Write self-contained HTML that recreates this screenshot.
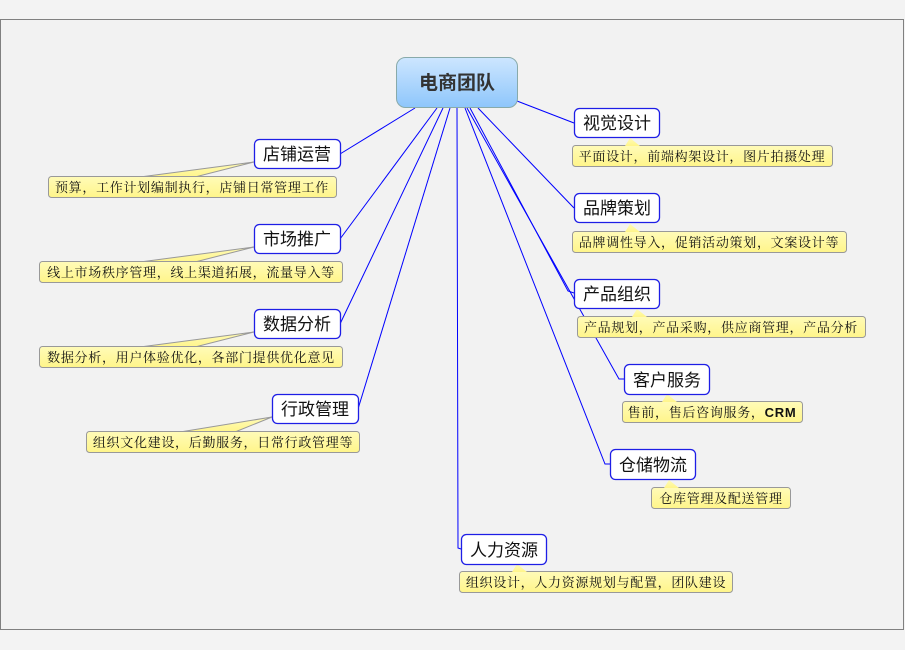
<!DOCTYPE html>
<html><head><meta charset="utf-8"><style>
html,body{margin:0;padding:0;background:#f3f3f3;}
svg{display:block}
.n{font-family:"Liberation Sans","Noto Sans CJK SC",sans-serif;font-size:17px;fill:#111}
.t{font-family:"Liberation Serif","Noto Serif CJK SC",serif;font-size:13px;fill:#111;letter-spacing:0.7px}
</style></head><body>
<svg width="905" height="650" viewBox="0 0 905 650" xmlns="http://www.w3.org/2000/svg">
<defs>
<linearGradient id="g" x1="0" y1="0" x2="0" y2="1"><stop offset="0" stop-color="#cde6ff"/><stop offset="1" stop-color="#8ec6fb"/></linearGradient>
<linearGradient id="y" x1="0" y1="0" x2="0" y2="1"><stop offset="0" stop-color="#fffbb8"/><stop offset="1" stop-color="#fff58a"/></linearGradient>
</defs>
<rect x="0" y="0" width="905" height="650" fill="#f3f3f3"/>
<rect x="0.5" y="19.5" width="903" height="610" fill="#f2f2f2" stroke="#808080"/>
<g stroke="#0000ff" stroke-width="1" fill="none">
<line x1="415" y1="108" x2="340" y2="154"/>
<line x1="437" y1="108" x2="340" y2="239"/>
<line x1="443" y1="108" x2="340" y2="324"/>
<line x1="450" y1="108" x2="358" y2="409"/>
<polyline points="457,108 458,548 461,549"/>
<line x1="517" y1="101" x2="574" y2="123"/>
<line x1="478" y1="108" x2="574" y2="208"/>
<polyline points="470,108 568,291 574,293"/>
<polyline points="467,108 619,379 624,379"/>
<polyline points="465,108 605,464 610,464"/>
</g>
<g stroke="#999" fill="url(#y)">
<polygon points="140,177 195,177 254,162"/>
<polygon points="140,262 195,262 254,247"/>
<polygon points="140,347 195,347 254,332"/>
<polygon points="180,432 235,432 272,417"/>
<rect x="48.5" y="176.5" width="288" height="21" rx="3"/>
<rect x="39.5" y="261.5" width="303" height="21" rx="3"/>
<rect x="39.5" y="346.5" width="303" height="21" rx="3"/>
<rect x="86.5" y="431.5" width="273" height="21" rx="3"/>
<rect x="572.5" y="145.5" width="260" height="21" rx="3"/>
<rect x="572.5" y="231.5" width="274" height="21" rx="3"/>
<rect x="577.5" y="316.5" width="288" height="21" rx="3"/>
<rect x="622.5" y="401.5" width="180" height="21" rx="3"/>
<rect x="651.5" y="487.5" width="139" height="21" rx="3"/>
<rect x="459.5" y="571.5" width="273" height="21" rx="3"/>
<polygon points="625,146 630,138 640,146" stroke="none"/>
<polygon points="625,232 630,224 640,232" stroke="none"/>
<polygon points="632,317 637,309 647,317" stroke="none"/>
<polygon points="662,402 667,394 677,402" stroke="none"/>
<polygon points="664,488 669,480 679,488" stroke="none"/>
<polygon points="512,572 517,564 527,572" stroke="none"/>
</g>
<rect x="396.5" y="57.5" width="121" height="50" rx="9" fill="url(#g)" stroke="#8aa"/>
<text x="457" y="89" text-anchor="middle" font-family="Liberation Sans,Noto Sans CJK SC,sans-serif" font-size="19" font-weight="bold" fill="#333">电商团队</text>
<g fill="#fff" stroke="#1e1ee6" stroke-width="1.3">
<rect x="254.5" y="139.5" width="86" height="29" rx="5"/>
<rect x="254.5" y="224.5" width="86" height="29" rx="5"/>
<rect x="254.5" y="309.5" width="86" height="29" rx="5"/>
<rect x="272.5" y="394.5" width="86" height="29" rx="5"/>
<rect x="574.5" y="108.5" width="85" height="29" rx="5"/>
<rect x="574.5" y="193.5" width="85" height="29" rx="5"/>
<rect x="574.5" y="279.5" width="85" height="29" rx="5"/>
<rect x="624.5" y="364.5" width="85" height="30" rx="5"/>
<rect x="610.5" y="449.5" width="85" height="30" rx="5"/>
<rect x="461.5" y="534.5" width="85" height="30" rx="5"/>
</g>
<g class="n" text-anchor="middle">
<text x="297" y="160">店铺运营</text>
<text x="297" y="245">市场推广</text>
<text x="297" y="330">数据分析</text>
<text x="315" y="415">行政管理</text>
<text x="617" y="129">视觉设计</text>
<text x="617" y="214">品牌策划</text>
<text x="617" y="300">产品组织</text>
<text x="667" y="386">客户服务</text>
<text x="653" y="471">仓储物流</text>
<text x="504" y="556">人力资源</text>
</g>
<g class="t" text-anchor="middle">
<text x="192" y="192">预算，工作计划编制执行，店铺日常管理工作</text>
<text x="191" y="277">线上市场秩序管理，线上渠道拓展，流量导入等</text>
<text x="191" y="362">数据分析，用户体验优化，各部门提供优化意见</text>
<text x="223" y="447">组织文化建设，后勤服务，日常行政管理等</text>
<text x="702" y="161">平面设计，前端构架设计，图片拍摄处理</text>
<text x="709" y="247">品牌调性导入，促销活动策划，文案设计等</text>
<text x="721" y="332">产品规划，产品采购，供应商管理，产品分析</text>
<text x="712" y="417">售前，售后咨询服务，<tspan font-family="Liberation Sans,sans-serif" font-weight="bold">CRM</tspan></text>
<text x="721" y="503">仓库管理及配送管理</text>
<text x="596" y="587">组织设计，人力资源规划与配置，团队建设</text>
</g>
</svg>
</body></html>
